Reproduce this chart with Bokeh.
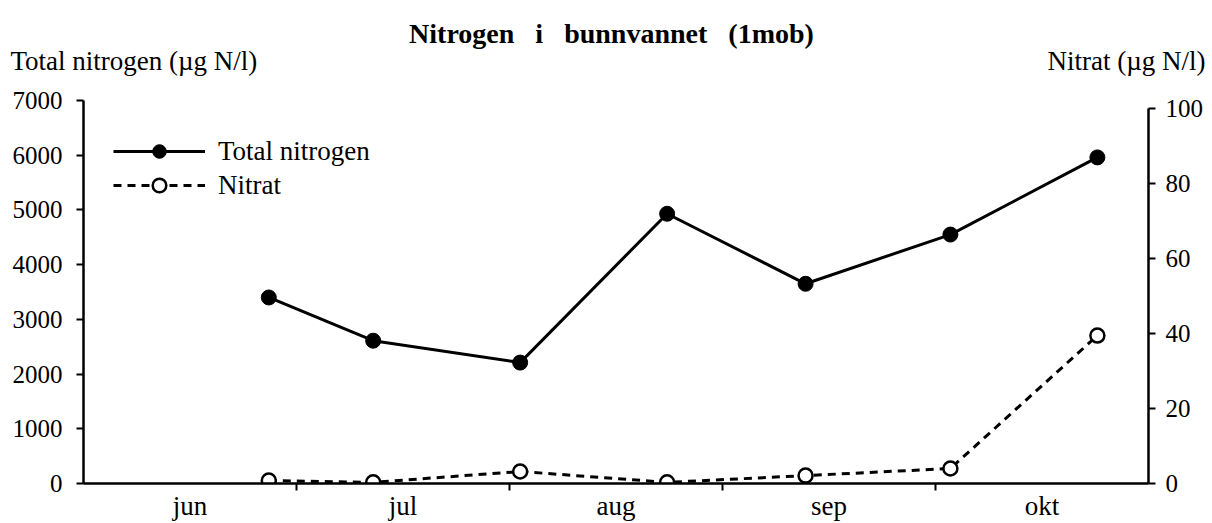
from bokeh.plotting import figure
from bokeh.layouts import column
from bokeh.models import Range1d, LinearAxis, FixedTicker, Label, Plot
from bokeh.embed import file_html
from bokeh.resources import INLINE

# ---- data ----
months = ["jun", "jul", "aug", "sep", "okt"]
month_centers = [0.5, 1.5, 2.5, 3.5, 4.5]
month_bounds = [1, 2, 3, 4]
# sampling positions (fraction of months from 1 June)
sample_pos = [0.87, 1.36, 2.05, 2.74, 3.39, 4.07, 4.76]
total_n = [3400, 2610, 2210, 4930, 3650, 4550, 5960]
nitrat = [0.8, 0.3, 3.2, 0.3, 2.1, 4.0, 39.4]
left_ticks = [0, 1000, 2000, 3000, 4000, 5000, 6000, 7000]
right_ticks = [0, 20, 40, 60, 80, 100]

title_text = "Nitrogen\u00a0\u00a0\u00a0i\u00a0\u00a0\u00a0bunnvannet\u00a0\u00a0\u00a0(1mob)"
left_title = "Total nitrogen (\u00b5g N/l)"
right_title = "Nitrat (\u00b5g N/l)"

FONT = "Liberation Serif"
FS_NUM = "25px"
FS_TXT = "27px"
W = 1212
HEAD_H = 80
MAIN_H = 523 - HEAD_H

# ---- header (title + axis titles) ----
head = figure(width=W, height=HEAD_H, output_backend="svg", toolbar_location=None,
              x_range=Range1d(0, W), y_range=Range1d(HEAD_H, 0),
              x_axis_type=None, y_axis_type=None,
              min_border_left=0, min_border_right=0, min_border_top=0, min_border_bottom=0)
head.outline_line_color = None
head.background_fill_color = "white"
head.border_fill_color = "white"
head.add_layout(Label(x=611, y=33, text=title_text, text_font=FONT, text_font_style="bold",
                      text_font_size="28px", text_align="center", text_baseline="middle",
                      text_color="black"))
head.add_layout(Label(x=10, y=60, text=left_title, text_font=FONT, text_font_size=FS_TXT,
                      text_align="left", text_baseline="middle", text_color="black"))
head.add_layout(Label(x=1205, y=60, text=right_title, text_font=FONT, text_font_size=FS_TXT,
                      text_align="right", text_baseline="middle", text_color="black"))

# ---- main plot ----
p = figure(width=W, height=MAIN_H, output_backend="svg", toolbar_location=None,
           x_range=Range1d(0, 5), y_range=Range1d(0, 7000),
           min_border_left=83, min_border_right=64, min_border_top=100 - HEAD_H,
           min_border_bottom=40)
p.outline_line_color = None
p.xgrid.visible = False
p.ygrid.visible = False
p.background_fill_color = "white"
p.border_fill_color = "white"

if "frame_align" in Plot.properties():
    head.frame_align = False
    p.frame_align = False

p.extra_y_ranges = {"nit": Range1d(0, 102)}

# left axis
ya = p.yaxis[0]
ya.ticker = FixedTicker(ticks=left_ticks)
ya.major_tick_out = 7
ya.major_tick_in = 0
ya.minor_tick_out = 0
ya.minor_tick_in = 0
ya.axis_line_width = 2.5
ya.major_tick_line_width = 2
ya.major_label_standoff = 14
ya.major_label_text_font = FONT
ya.major_label_text_font_size = FS_NUM
ya.major_label_text_color = "black"

# right axis
ra = LinearAxis(y_range_name="nit", ticker=FixedTicker(ticks=right_ticks), bounds=(0, 100))
ra.major_tick_out = 7
ra.major_tick_in = 0
ra.minor_tick_out = 0
ra.minor_tick_in = 0
ra.axis_line_width = 2.5
ra.major_tick_line_width = 2
ra.major_label_standoff = 10
ra.major_label_text_font = FONT
ra.major_label_text_font_size = FS_NUM
ra.major_label_text_color = "black"
p.add_layout(ra, "right")

# x axis
xa = p.xaxis[0]
xa.ticker = FixedTicker(ticks=month_centers, minor_ticks=month_bounds)
xa.major_label_overrides = {c: m for c, m in zip(month_centers, months)}
xa.major_tick_out = 0
xa.major_tick_in = 0
xa.minor_tick_out = 7
xa.minor_tick_in = 0
xa.minor_tick_line_width = 2
xa.axis_line_width = 2.5
xa.major_label_standoff = 0
xa.major_label_text_font = FONT
xa.major_label_text_font_size = FS_TXT
xa.major_label_text_color = "black"

# series
p.line(sample_pos, total_n, line_color="black", line_width=3, legend_label="Total nitrogen")
p.scatter(sample_pos, total_n, size=15, fill_color="black", line_color="black",
          legend_label="Total nitrogen")
p.line(sample_pos, nitrat, y_range_name="nit", line_color="black", line_width=3,
       line_dash="8 6", legend_label="Nitrat")
p.scatter(sample_pos, nitrat, y_range_name="nit", size=14, fill_color="white",
          line_color="black", line_width=2.5, legend_label="Nitrat")

lg = p.legend[0]
lg.location = (30, 281)
lg.margin = 0
lg.padding = 0
lg.glyph_width = 92
lg.glyph_height = 34
lg.label_height = 33
lg.spacing = 0
lg.label_standoff = 13
lg.border_line_color = None
lg.background_fill_alpha = 0
lg.label_text_font = FONT
lg.label_text_font_size = FS_TXT
lg.label_text_color = "black"

layout = column(head, p, spacing=0)
open("out.html", "w").write(file_html(layout, INLINE))
